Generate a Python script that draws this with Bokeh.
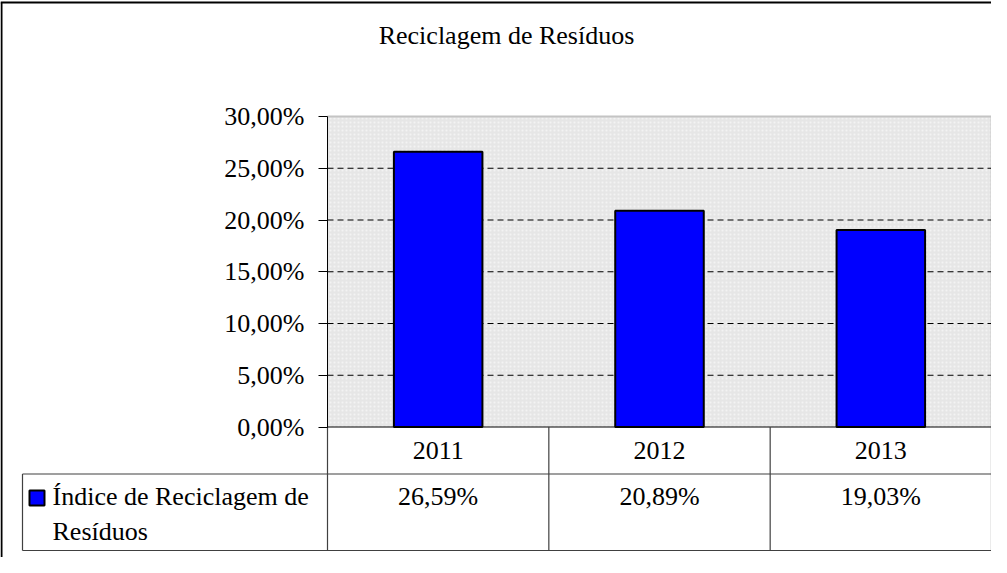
from bokeh.plotting import figure
from bokeh.models import Range1d, FixedTicker
from bokeh.core.properties import value
from bokeh.embed import file_html
from bokeh.resources import INLINE

# ---------------- data ----------------
title_text = "Reciclagem de Resíduos"
series_name_lines = ["Índice de Reciclagem de", "Resíduos"]
years = ["2011", "2012", "2013"]
recycling_pct = [26.59, 20.89, 19.03]
y_ticks = [0, 5, 10, 15, 20, 25, 30]
y_tick_labels = ["0,00%", "5,00%", "10,00%", "15,00%", "20,00%", "25,00%", "30,00%"]

# ---------------- layout helpers (page pixels -> data) ----------------
W, H = 991, 557
CANVAS_L, CANVAS_T = 8, 8
PLOT_L_PX = 335
PLOT_R_PX = CANVAS_L + W
PX_PER_CAT = (PLOT_R_PX - PLOT_L_PX) / len(years)
ZERO_PX = 434.5
PX_PER_PCT = (ZERO_PX - 124) / 30.0
TXT_DY = 10  # compensation for the text box baseline


def xd(px):
    return (px - PLOT_L_PX) / PX_PER_CAT


def yd(py):
    return (ZERO_PX - py) / PX_PER_PCT


def ytd(py):
    return yd(py - TXT_DY)


FONT = value("Liberation Serif")
FS = "26px"

p = figure(width=W, height=H, output_backend="svg", toolbar_location=None,
           x_range=Range1d(xd(CANVAS_L), xd(CANVAS_L + W)),
           y_range=Range1d(yd(CANVAS_T + H), yd(CANVAS_T)),
           min_border=0, x_axis_location=None)
p.outline_line_color = None
p.background_fill_color = "white"
p.border_fill_color = "white"
p.xgrid.visible = False
p.ygrid.visible = False

n = len(years)
xc = [i + 0.5 for i in range(n)]
ymax = y_ticks[-1]

# plot area background
p.quad(left=[0], right=[n], bottom=[0], top=[ymax], fill_color="#e6e6e6",
       line_color=None, hatch_pattern="dot", hatch_color="#f6f6f6",
       hatch_scale=4, hatch_alpha=0.8)
# plot area light border (top & right)
p.segment(x0=[0, n], y0=[ymax, 0], x1=[n, n], y1=[ymax, ymax],
          line_color="#c4c4c4", line_width=2)

# dashed grid
gy = [t for t in y_ticks if 0 < t < ymax]
p.segment(x0=[0] * len(gy), y0=gy, x1=[n] * len(gy), y1=gy,
          line_color="black", line_width=1, line_dash="6 4")

# bars
p.vbar(x=xc, top=recycling_pct, width=0.4, bottom=0,
       fill_color="#0000ff", line_color="black", line_width=2)

# y axis
ax = p.yaxis[0]
ax.fixed_location = 0
ax.bounds = (0, ymax)
ax.ticker = FixedTicker(ticks=y_ticks, minor_ticks=[])
ax.major_label_overrides = dict(zip(y_ticks, y_tick_labels))
ax.major_tick_out = 9
ax.major_tick_in = 0
ax.minor_tick_out = 0
ax.minor_tick_in = 0
ax.major_label_standoff = 14
ax.axis_line_color = "black"
ax.major_tick_line_color = "black"
ax.major_label_text_font = "Liberation Serif"
ax.major_label_text_font_size = FS
ax.major_label_text_color = "black"

# category axis line
p.segment(x0=[0], y0=[0], x1=[n], y1=[0], line_color="black", line_width=1)

# data table
TBL = "#404040"
row1_py, row2_py = 481.5, 558
leg_l_px = 30
p.segment(x0=[xd(leg_l_px), xd(leg_l_px)], y0=[yd(row1_py), yd(row2_py)],
          x1=[n, n], y1=[yd(row1_py), yd(row2_py)], line_color=TBL, line_width=1.2)
vx = list(range(n + 1))
p.segment(x0=vx, y0=[0] * len(vx), x1=vx, y1=[yd(row2_py)] * len(vx),
          line_color=TBL, line_width=1.2)
p.segment(x0=[xd(leg_l_px)], y0=[yd(row1_py)], x1=[xd(leg_l_px)], y1=[yd(row2_py)],
          line_color=TBL, line_width=1.2)

p.text(x=xc, y=[ytd(468)] * n, text=years, text_font=FONT, text_font_size=FS,
       text_align="center", text_baseline="alphabetic", text_color="black")
val_labels = [f"{v:.2f}".replace(".", ",") + "%" for v in recycling_pct]
p.text(x=xc, y=[ytd(514)] * n, text=val_labels, text_font=FONT, text_font_size=FS,
       text_align="center", text_baseline="alphabetic", text_color="black")

# legend key and name
p.quad(left=[xd(37)], right=[xd(52)], bottom=[yd(513)], top=[yd(498)],
       fill_color="#0000ff", line_color="black", line_width=2)
p.text(x=[xd(60), xd(60)], y=[ytd(514), ytd(549)], text=series_name_lines,
       text_font=FONT, text_font_size=FS, text_align="left",
       text_baseline="alphabetic", text_color="black")

# title
p.text(x=[xd(514)], y=[ytd(53)], text=[title_text], text_font=FONT,
       text_font_size=FS, text_align="center", text_baseline="alphabetic",
       text_color="black")

# outer chart border (left & top visible)
p.segment(x0=[xd(9), xd(8)], y0=[yd(CANVAS_T + H), yd(10)], x1=[xd(9), xd(CANVAS_L + W)],
          y1=[yd(10), yd(10)], line_color="black", line_width=2)

open("out.html", "w").write(file_html(p, INLINE))
